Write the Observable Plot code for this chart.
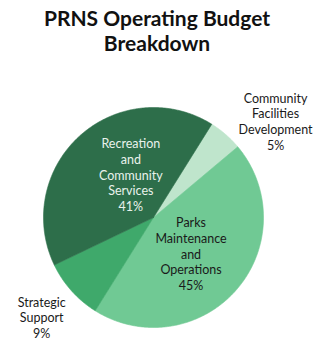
<!DOCTYPE html>
<html><head><meta charset="utf-8">
<script src="https://cdn.jsdelivr.net/npm/d3@7"></script>
<script src="https://cdn.jsdelivr.net/npm/@observablehq/plot@0.6"></script>
<style>
body{margin:0;background:#fff;font-family:Lato,"Open Sans",sans-serif;}
#title{width:314px;text-align:center;font-weight:bold;font-size:21px;line-height:25px;padding-top:5px;color:#111;height:50px;}
#chart svg{display:block;}
</style></head><body>
<div id="title">PRNS Operating Budget<br>Breakdown</div>
<div id="chart"></div>
<script>
// Data
const categories = ["Community Facilities Development", "Parks Maintenance and Operations", "Strategic Support", "Recreation and Community Services"];
const labelLines = ["Community\nFacilities\nDevelopment", "Parks\nMaintenance\nand\nOperations", "Strategic\nSupport", "Recreation\nand\nCommunity\nServices"];
const shares = [5, 45, 9, 41];
const colors = ["#bfe5cc", "#70c994", "#3fa96b", "#2d6e4a"];
const textColors = ["#1a1a1a", "#1a1a1a", "#1a1a1a", "#e9f2ec"];
const inside = [false, true, false, true];

const startDeg = 32;
const pie = d3.pie().sort(null).value(d => d).startAngle(startDeg * Math.PI / 180).endAngle((startDeg + 360) * Math.PI / 180);
const arcs = pie(shares);

const slices = arcs.map((a, i) => {
  const pts = [{x: 0, y: 0}];
  const n = Math.max(2, Math.ceil((a.endAngle - a.startAngle) / (Math.PI / 360)));
  for (let k = 0; k <= n; k++) {
    const t = a.startAngle + (a.endAngle - a.startAngle) * k / n;
    pts.push({x: Math.sin(t), y: Math.cos(t)});
  }
  pts.push({x: 0, y: 0});
  const mid = (a.startAngle + a.endAngle) / 2;
  const r = inside[i] ? 0.5 : 1.4;
  return {
    name: categories[i], color: colors[i], points: pts,
    label: {x: r * Math.sin(mid), y: r * Math.cos(mid), text: labelLines[i] + "\n" + shares[i] + "%", fill: textColors[i]}
  };
});

// label nudges (pixels)
const nudge = [[21, 20], [-4, 0], [3, -3], [14, -2]];

const W = 314, H = 286, cx = 153, cy = 162, R = 110;
const chart = Plot.plot({
  width: W, height: H,
  margin: 0,
  x: {domain: [-1, 1], range: [cx - R, cx + R], axis: null},
  y: {domain: [-1, 1], range: [cy + R, cy - R], axis: null},
  style: {fontFamily: "Lato, 'Open Sans', sans-serif", background: "#fff"},
  marks: [
    ...slices.map(s => Plot.line(s.points, {x: "x", y: "y", fill: s.color, stroke: s.color, strokeWidth: 0.6, curve: "linear"})),
    ...slices.map((s, i) => Plot.text([s.label], {
      x: "x", y: "y", text: "text", fill: s.label.fill,
      fontSize: 12.5, lineHeight: 1.25, textAnchor: "middle", lineAnchor: "middle",
      dx: nudge[i][0], dy: nudge[i][1]
    }))
  ]
});
document.getElementById("chart").appendChild(chart);
</script>
</body></html>
